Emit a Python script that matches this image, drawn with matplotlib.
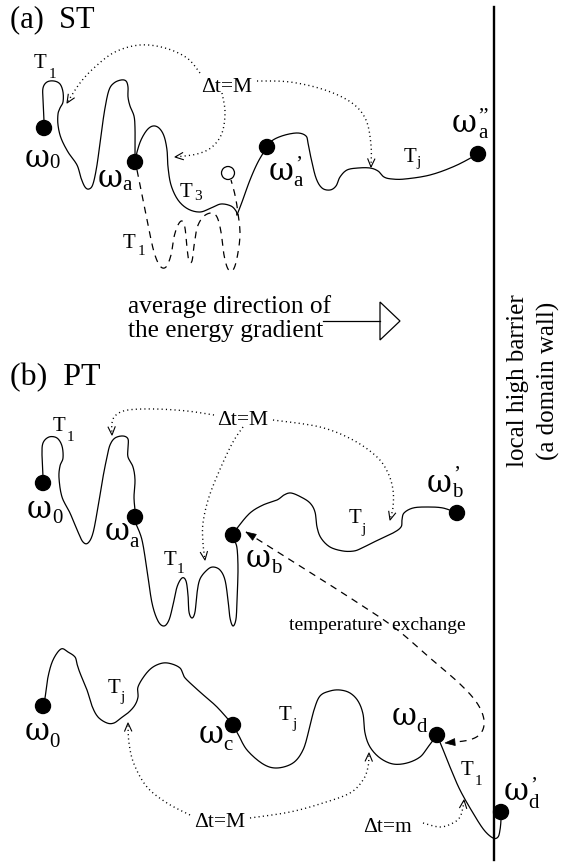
import numpy as np
import matplotlib
matplotlib.use("Agg")
import matplotlib.pyplot as plt
from matplotlib.patches import Circle, Polygon

plt.rcParams['font.family'] = ['Liberation Serif', 'DejaVu Serif']

# ---------------- schematic data (pixel coordinates, y downward) -------------
# panel (a) trajectories
a_path_1 = [(44,121),(43,100),(43,88),(47,82),(54,81),(60,84),(63,92),(63,102),(60,108),
            (58,114),(58,125),(61,138),(68,152),(77,165),(81,178),(85,187),(89,189),(93,184),
            (97,165),(101,135),(105,108),(109,90),(114,83),(121,80),(126,81),(128,87),(128,97),
            (130,106),(134,116),(135,128),(135,145),(135,162)]
a_path_2 = [(135,162),(137,152),(141,140),(147,130),(153,126),(159,128),(164,136),(167,150),
            (168,167),(171,185),(178,200),(188,209),(200,212),(211,208),(221,204),(231,206),
            (236,211),(237,215)]
a_path_3 = [(237,215),(242,202),(250,180),(258,162),(267,147)]
a_path_4 = [(267,147),(273,140),(285,135),(298,133),(306,136),(308,143),(311,158),(316,178),
            (322,188),(330,190),(336,186),(340,177),(347,170),(358,168),(370,168),(378,171),
            (384,177),(392,179),(405,179),(430,175),(455,166),(478,154)]
a_dashed = [(137,170),(142,195),(148,225),(154,252),(160,266),(166,267),(171,255),(174,237),
            (178,225),(182,221),(185,228),(187,248),(189,261),(192,261),(194,246),(197,228),
            (203,217),(211,213),(217,217),(221,232),(224,255),(228,269),(233,270),(237,258),
            (240,235),(238,213),(235,195),(231,180)]
a_dot_1 = [(200,73),(187,58),(165,48),(140,45),(115,52),(95,67),(80,83),(67,103)]
a_dot_2 = [(257,81),(290,82),(325,90),(352,103),(366,120),(371,145),(371,167)]
a_dot_3 = [(222,93),(225,112),(222,133),(212,147),(197,154),(175,157)]
a_states = [(44,128),(135,162),(267,147),(478,154)]
a_open_state = (228,173)

# panel (b) upper trajectories
b_path_1 = [(43,477),(42,455),(43,443),(49,437),(57,438),(62,446),(63,458),(60,466),(59,478),
            (62,497),(70,513),(78,532),(83,542),(88,543),(93,533),(98,507),(103,477),(107,457),
            (110,445),(115,438),(123,436),(128,439),(128,448),(128,457),(133,467),(135,480),
            (134,497),(135,510)]
b_path_2 = [(136,524),(142,540),(147,570),(152,603),(158,621),(164,626),(169,620),(173,605),
            (177,587),(182,578),(186,581),(188,595),(189,612),(192,618),(195,612),(197,593),
            (200,579),(207,570),(213,567),(220,570),(225,580),(228,600),(230,618),(233,626),
            (236,619),(237,600),(238,570),(237,548),(234,540)]
b_path_3 = [(233,535),(238,527),(250,513),(263,505),(277,500),(284,495),(291,493),(301,497),
            (310,503),(315,512),(317,527),(321,538),(330,547),(343,551),(354,551),(362,548),
            (374,542),(393,533),(401,527),(402,520),(404,513),(413,508),(427,507),(443,508),
            (457,513)]
b_dot_1 = [(214,415),(187,411),(155,409),(128,410),(116,415),(112,423),(112,435)]
b_dot_2 = [(243,427),(233,442),(221,467),(209,497),(203,523),(203,543),(205,560)]
b_dot_3 = [(273,420),(320,427),(353,440),(377,457),(388,473),(393,490),(393,507),(390,520)]
b_states = [(43,483),(135,517),(233,535),(457,513)]
exchange_path = [(246,532),(300,566),(355,601),(395,628),(430,658),(460,684),(477,703),
                 (484,720),(481,733),(469,740),(445,743)]

# panel (b) lower trajectories
c_path_1 = [(43,706),(45,698),(48,677),(53,660),(61,649),(68,652),(75,657),(77,664),(80,673),
            (87,690),(92,706),(98,717),(107,723),(114,723),(121,718),(129,712),(135,705),
            (138,697),(138,687),(145,675),(153,667),(163,663),(172,664),(180,668),(183,674),
            (186,679),(200,692),(217,707),(233,725)]
c_path_2 = [(233,725),(238,734),(247,750),(263,764),(277,768),(293,763),(303,750),(309,730),
            (314,710),(320,696),(330,691),(340,690),(350,693),(358,701),(363,714),(365,733),
            (370,747),(380,758),(393,764),(407,763),(420,757),(428,747),(437,735)]
c_path_3 = [(437,735),(442,747),(450,767),(460,790),(473,813),(484,830),(493,838),(498,837),
            (500,830),(501,820),(501,812)]
c_dot_1 = [(190,815),(167,803),(147,787),(134,764),(129,743),(128,723)]
c_dot_2 = [(250,818),(290,812),(323,803),(350,793),(363,780),(368,767),(369,753)]
c_dot_3 = [(423,823),(440,827),(453,823),(460,817),(463,807),(464,800)]
c_states = [(43,706),(233,725),(437,735),(501,812)]

# state labels: (omega x, baseline y, subscript, sub x, sub baseline, primes)
omega_labels = [
    (37,167,'0',54,168,''), (110,187,'a',125,190,''),
    (281,180,'a',297,187,'\u2019'), (464,132,'a',481,139,'\u2019\u2019'),
    (39,518,'0',57,523,''), (117,540,'a',132,547,''),
    (258,567,'b',273,573,''), (439,492,'b',455,497,'\u2019'),
    (37,740,'0',53,747,''), (211,743,'c',226,750,''),
    (404,725,'d',420,732,''), (516,800,'d',533,808,'\u2019'),
]
# temperature labels: (T x, baseline, subscript, sub x, sub baseline)
T_labels = [
    (40,68,'1',53,78), (129,248,'1',142,255), (186,197,'3',199,200), (410,162,'j',420,166),
    (59,431,'1',71,441), (170,565,'1',180,573), (355,523,'j',364,533),
    (114,693,'j',124,701), (285,720,'j',295,728), (467,775,'1',479,785),
]
dt_labels = [(227,92,'\u0394t=M'), (243,425,'\u0394t=M'), (220,827,'\u0394t=M'), (388,832,'\u0394t=m')]
wall_x = 494
wall_y = (7, 860)

# ---------------- drawing ----------------
W, H = 563, 863
fig = plt.figure(figsize=(W/100, H/100), dpi=100)
ax = fig.add_axes([0, 0, 1, 1])
ax.set_xlim(0, W)
ax.set_ylim(H, 0)
ax.axis('off')
renderer = fig.canvas.get_renderer()


def smooth(pts, n=14):
    P = np.asarray(pts, float)
    P = np.vstack([P[0], P, P[-1]])
    out = []
    t = np.linspace(0, 1, n, endpoint=False)[:, None]
    for i in range(1, len(P) - 2):
        p0, p1, p2, p3 = P[i-1], P[i], P[i+1], P[i+2]
        out.append(0.5 * ((2*p1) + (-p0 + p2)*t + (2*p0 - 5*p1 + 4*p2 - p3)*t**2
                          + (-p0 + 3*p1 - 3*p2 + p3)*t**3))
    out.append(P[-2][None])
    return np.vstack(out)


def curve(pts, **kw):
    s = smooth(pts)
    ax.plot(s[:, 0], s[:, 1], color='black', solid_capstyle='round', **kw)
    return s


def end_dir(s, back=5):
    d = s[-1] - s[-1-back]
    return d / np.hypot(*d)


def vhead(tip, d, L=8, w=3.5):
    perp = np.array([-d[1], d[0]])
    b = tip - d*L
    p1, p2 = b + perp*w, b - perp*w
    ax.plot([p1[0], tip[0], p2[0]], [p1[1], tip[1], p2[1]], color='black', lw=0.8)


def fhead(tip, d, L=10, w=3.5):
    perp = np.array([-d[1], d[0]])
    b = tip - d*L
    ax.add_patch(Polygon([tip, b + perp*w, b - perp*w], closed=True, fc='black', ec='black', lw=0.5))


def keep_right_of(base, t):
    """shift text t right so that its box starts where the box of base ends"""
    bb = base.get_window_extent(renderer=renderer)
    bs = t.get_window_extent(renderer=renderer)
    if bs.x0 < bb.x1 + 0.3:
        t.set_x(t.get_position()[0] + (bb.x1 + 0.3 - bs.x0))


SOLID = dict(lw=0.9)
DOTTED = dict(lw=1.0, dashes=(0.8, 2.3))
DASHED = dict(lw=0.9, dashes=(5.5, 4.5))

for p in [a_path_1, a_path_2, a_path_3, a_path_4, b_path_1, b_path_2, b_path_3,
          c_path_1, c_path_2, c_path_3]:
    curve(p, **SOLID)

curve(a_dashed, **DASHED)

for p in [a_dot_1, a_dot_2, a_dot_3, b_dot_1, b_dot_2, b_dot_3, c_dot_1, c_dot_2, c_dot_3]:
    s = curve(p, **DOTTED)
    vhead(s[-1], end_dir(s))

s = curve(exchange_path, **DASHED)
fhead(s[-1], end_dir(s))
d0 = s[0] - s[5]
fhead(s[0], d0 / np.hypot(*d0))

# states
for (x, y) in a_states + b_states + c_states:
    ax.add_patch(Circle((x, y), 7.5, fc='black', ec='black', zorder=5))
ax.add_patch(Circle(a_open_state, 6.5, fc='white', ec='black', lw=0.9, zorder=5))

# barrier
ax.plot([wall_x, wall_x], wall_y, color='black', lw=1.7)

# texts
for (x, y, sub, sx, sy, pr) in omega_labels:
    tw = ax.text(x, y, '\u03c9', fontsize=22, family=['DejaVu Serif'], ha='center', va='baseline')
    if pr:
        # prime stacked above the subscript in one text
        ts = ax.text(sx, sy + 4.5, pr + '\n' + sub, fontsize=15, ha='center', va='bottom',
                     linespacing=0.85)
    else:
        ts = ax.text(sx, sy, sub, fontsize=15, ha='center', va='baseline')
    keep_right_of(tw, ts)

for (x, y, sub, sx, sy) in T_labels:
    tt = ax.text(x, y, 'T', fontsize=15, ha='center', va='baseline')
    ts = ax.text(sx - 1, sy, sub, fontsize=11, ha='center', va='baseline')
    keep_right_of(tt, ts)

for (x, y, s_) in dt_labels:
    ax.text(x, y, s_, fontsize=15.5, ha='center', va='baseline')

ax.text(10, 27, '(a)  ST', fontsize=22, ha='left', va='baseline')
ax.text(10, 385, '(b)  PT', fontsize=23, ha='left', va='baseline')
ax.text(128, 313, 'average direction of', fontsize=18.3, ha='left', va='baseline')
ax.text(128, 337, 'the energy gradient', fontsize=18.3, ha='left', va='baseline')
ax.text(289, 630, 'temperature  exchange', fontsize=14, ha='left', va='baseline')
ax.text(518, 381, 'local high barrier', fontsize=18, rotation=90, ha='center', va='center')
ax.text(548, 381, '(a domain wall)', fontsize=18, rotation=90, ha='center', va='center')

# energy gradient arrow
ax.plot([323, 380], [321, 321], color='black', lw=0.9)
ax.add_patch(Polygon([(380, 302), (400, 321), (380, 340)], closed=True, fc='white', ec='black', lw=0.9))

fig.savefig('out.png', dpi=100)
